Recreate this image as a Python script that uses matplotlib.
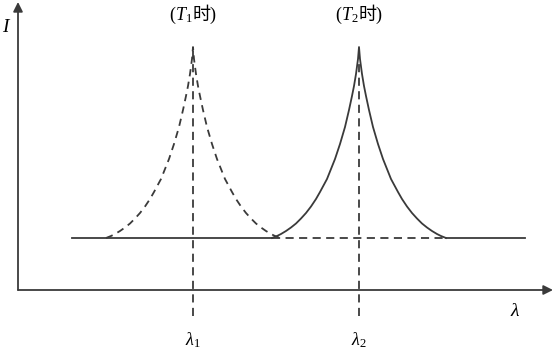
import matplotlib
matplotlib.use('Agg')
import numpy as np
import matplotlib.pyplot as plt
from matplotlib.offsetbox import TextArea, HPacker, AnnotationBbox

plt.rcParams['font.family'] = ['Liberation Serif', 'Noto Sans CJK SC', 'DejaVu Sans']
plt.rcParams['mathtext.fontset'] = 'custom'
plt.rcParams['mathtext.rm'] = 'Liberation Serif'
plt.rcParams['mathtext.it'] = 'Liberation Serif:italic'

# wavelengths of the two peaks and the background level
lam_peaks = [17.5, 34.1]
peak_labels = [r'$\lambda_1$', r'$\lambda_2$']
temp_labels = [r'$T_1$', r'$T_2$']
I_base = 5.2
baseline_start = 5.4
baseline_end = 50.7

# half profile of a peak (offset from centre, height above background)
offset = [0, 0.1, 0.3, 0.5, 0.7, 1.0, 1.4, 1.9, 2.4, 2.8, 3.2, 3.9, 4.3, 4.8,
          5.3, 5.8, 6.3, 6.8, 7.3, 7.8, 8.2, 8.7]
height = [19.1, 17.9, 16.4, 15.2, 14.2, 12.8, 11.1, 9.4, 7.9, 6.9, 5.9, 4.6, 3.9, 3.15,
          2.5, 1.95, 1.45, 1.05, 0.7, 0.4, 0.2, 0.0]

x_end = 53.5
y_end = 28.8
vline_bottom = -2.6

col = '#3a3a3a'
lw = 1.3

fig = plt.figure(figsize=(5.54, 3.52), dpi=100)
ax = fig.add_axes([0, 0, 1, 1])
ax.set_xlim(-1.8, 53.6)
ax.set_ylim(-6.2, 29.0)
ax.axis('off')

off = np.array(offset)
hgt = np.array(height)
d_full = np.concatenate([-off[::-1], off[1:]])
h_full = np.concatenate([hgt[::-1], hgt[1:]])

# peak at T1 (dashed) and T2 (solid)
ax.plot(lam_peaks[0] + d_full, I_base + h_full, color=col, lw=lw, dashes=(4, 3))
ax.plot(lam_peaks[1] + d_full, I_base + h_full, color=col, lw=lw)

# background line: solid, dashed under the T2 peak, solid again
left2 = lam_peaks[1] - off[-1]
right2 = lam_peaks[1] + off[-1]
ax.plot([baseline_start, left2], [I_base, I_base], color=col, lw=lw)
ax.plot([left2, right2], [I_base, I_base], color=col, lw=lw, dashes=(4.5, 3))
ax.plot([right2, baseline_end], [I_base, I_base], color=col, lw=lw)

# vertical dashed lines at the peak wavelengths, with labels
for lam, lab, tl in zip(lam_peaks, peak_labels, temp_labels):
    ax.plot([lam, lam], [vline_bottom, I_base + hgt[0]], color=col, lw=lw, dashes=(4.5, 3))
    ax.text(lam, -5.0, lab, fontsize=13, ha='center', va='center')
    tp = dict(fontsize=13)
    box = HPacker(children=[TextArea('(', textprops=tp), TextArea(tl, textprops=tp),
                            TextArea('时)', textprops=tp)],
                  align='baseline', pad=0, sep=0)
    ab = AnnotationBbox(box, (lam, 27.5), frameon=False, box_alignment=(0.5, 0.5))
    ax.add_artist(ab)

# axes with arrows
ax.annotate('', xy=(0, y_end), xytext=(0, 0),
            arrowprops=dict(arrowstyle='-|>', color=col, lw=lw, mutation_scale=14, shrinkA=0, shrinkB=0))
ax.annotate('', xy=(x_end, 0), xytext=(0, 0),
            arrowprops=dict(arrowstyle='-|>', color=col, lw=lw, mutation_scale=14, shrinkA=0, shrinkB=0))
ax.text(-1.1, 26.2, '$I$', fontsize=14, ha='center', va='center')
ax.text(49.7, -2.1, r'$\lambda$', fontsize=14, ha='center', va='center')

fig.savefig('out.png', dpi=100)
